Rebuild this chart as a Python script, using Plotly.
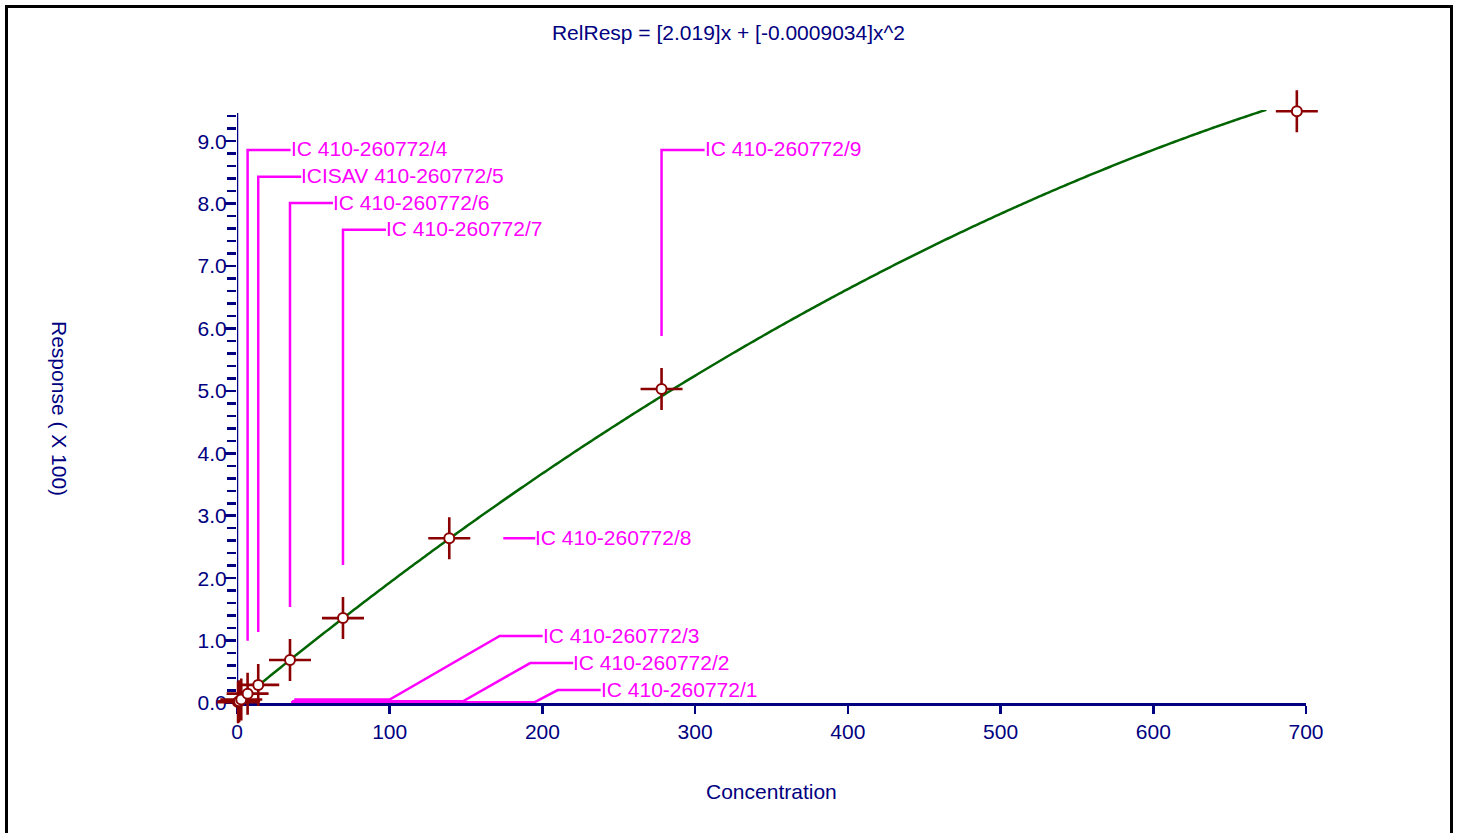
import plotly.graph_objects as go
import numpy as np

# ---------------- data ----------------
conc = [0.694, 1.39, 2.78, 6.94, 13.9, 34.7, 69.4, 139.0, 278.0, 694.0]
resp = [0.014, 0.028, 0.056, 0.15, 0.29, 0.69, 1.36, 2.64, 5.03, 9.48]
labels = ["IC 410-260772/1", "IC 410-260772/2", "IC 410-260772/3",
          "IC 410-260772/4", "ICISAV 410-260772/5", "IC 410-260772/6",
          "IC 410-260772/7", "IC 410-260772/8", "IC 410-260772/9", None]
coef_lin = 2.019
coef_quad = -0.0009034
fit_start = 13.9
fit_end = 674.0
resp_scale = 100.0
x_ticks = [0, 100, 200, 300, 400, 500, 600, 700]
title_text = "RelResp = [2.019]x + [-0.0009034]x^2"

# ---------------- layout constants ----------------
W, H = 1457, 833
L, R, T, B = 237, 151, 110, 130
XR = [0, 700]
YR = [0, 9.5]
Y_AXIS_TOP = 9.45
PW = W - L - R
PH = H - T - B
PXX = PW / (XR[1] - XR[0])   # px per x unit
PXY = PH / (YR[1] - YR[0])   # px per y unit

NAVY = "#000080"
MAG = "#FF00FF"
DRED = "#8B0000"
GREEN = "#006400"
FONT = "Liberation Sans, Arial, sans-serif"
FS = 21

# label placement (label y in data units) and leader styles
label_style = {
    0: ("low", 195.0, 210.0, 0.208),
    1: ("low", 148.0, 192.0, 0.64),
    2: ("low", 100.0, 172.0, 1.073),
    3: ("up", 8.86),
    4: ("up", 8.43),
    5: ("up", 8.01),
    6: ("up", 7.58),
    7: ("right",),
    8: ("up", 8.86),
}
GAP = 53      # px gap between point and leader start
RUN = 43      # px horizontal run before text

lx, ly = [], []
annots = []
for i, style in label_style.items():
    px, py = conc[i], resp[i]
    kind = style[0]
    if kind == "up":
        ytxt = style[1]
        xt = px + RUN / PXX
        pts = [(px, py + GAP / PXY), (px, ytxt), (xt, ytxt)]
    elif kind == "right":
        ytxt = py
        x0 = px + 54 / PXX
        xt = px + 86 / PXX
        pts = [(x0, py), (xt, py)]
    else:
        b1, b2, ytxt = style[1], style[2], style[3]
        xt = b2 + RUN / PXX
        pts = [(px + GAP / PXX, py), (b1, py), (b2, ytxt), (xt, ytxt)]
    for (a, b) in pts:
        lx.append(a)
        ly.append(b)
    lx.append(None)
    ly.append(None)
    annots.append(dict(x=xt, y=ytxt, xref="x", yref="y", text=labels[i],
                       showarrow=False, xanchor="left", yanchor="middle",
                       xshift=-2, yshift=1,
                       font=dict(family=FONT, size=FS, color=MAG)))

fx = np.linspace(fit_start, fit_end, 400)
fy = (coef_lin * fx + coef_quad * fx ** 2) / resp_scale

fig = go.Figure()
fig.add_trace(go.Scatter(x=lx, y=ly, mode="lines", cliponaxis=False,
                         line=dict(color=MAG, width=2.5), hoverinfo="skip",
                         showlegend=False))
fig.add_trace(go.Scatter(x=fx, y=fy, mode="lines", cliponaxis=False,
                         line=dict(color=GREEN, width=2.5, simplify=False),
                         showlegend=False))
fig.add_trace(go.Scatter(x=conc, y=resp, mode="markers", cliponaxis=False,
                         marker=dict(symbol="cross-thin", size=30,
                                     line=dict(color=DRED, width=2.6)),
                         showlegend=False))
fig.add_trace(go.Scatter(x=conc, y=resp, mode="markers", cliponaxis=False,
                         marker=dict(symbol="circle", size=10, color="white",
                                     line=dict(color=DRED, width=2)),
                         showlegend=False))

annots.append(dict(x=0.5, y=-(791 - (H - B)) / PH, xref="paper", yref="paper",
                   text="Concentration", showarrow=False, xanchor="center",
                   yanchor="middle",
                   font=dict(family=FONT, size=FS, color=NAVY)))
annots.append(dict(x=(60 - L) / PW, y=(H - B - 408) / PH, xref="paper",
                   yref="paper",
                   text="Response ( X 100)", showarrow=False, textangle=90,
                   xanchor="center", yanchor="middle",
                   font=dict(family=FONT, size=FS, color=NAVY)))

fig.update_layout(
    width=W, height=H,
    margin=dict(l=L, r=R, t=T, b=B, pad=0),
    paper_bgcolor="white", plot_bgcolor="white",
    title=dict(text=title_text, x=0.5, xref="container", xanchor="center",
               y=1 - 33 / H, yref="container", yanchor="middle",
               font=dict(family=FONT, size=FS, color=NAVY)),
    annotations=annots,
    showlegend=False,
    shapes=[
        dict(type="rect", xref="paper", yref="paper",
             x0=(6.5 - L) / PW, x1=(1451.5 - L) / PW,
             y0=-(845 - (H - B)) / PH, y1=((H - B) - 6.5) / PH,
             line=dict(color="black", width=3), layer="above"),
        dict(type="line", xref="x", yref="y", x0=0, x1=0, y0=0,
             y1=Y_AXIS_TOP, line=dict(color=NAVY, width=2.5), layer="below"),
    ],
)
fig.update_xaxes(range=XR, showgrid=False, zeroline=False, showline=True,
                 linecolor=NAVY, linewidth=2.5, layer="below traces",
                 tickmode="array", tickvals=x_ticks,
                 ticks="outside", ticklen=8, tickwidth=2.5, tickcolor=NAVY,
                 tickfont=dict(family=FONT, size=FS, color=NAVY))
fig.update_yaxes(range=YR, showgrid=False, zeroline=False, showline=False,
                 layer="below traces",
                 dtick=1, tick0=0, tickformat=".1f",
                 ticks="outside", ticklen=11, tickwidth=2.5, tickcolor=NAVY,
                 ticklabelstandoff=-6,
                 minor=dict(dtick=0.2, ticks="outside", ticklen=9,
                            tickwidth=2.5, tickcolor=NAVY, showgrid=False),
                 tickfont=dict(family=FONT, size=FS, color=NAVY))

fig.write_html("out.html",
               config={"displayModeBar": False, "staticPlot": True},
               post_script="document.body.style.margin='0px';"
                           "document.body.style.overflow='hidden';")
